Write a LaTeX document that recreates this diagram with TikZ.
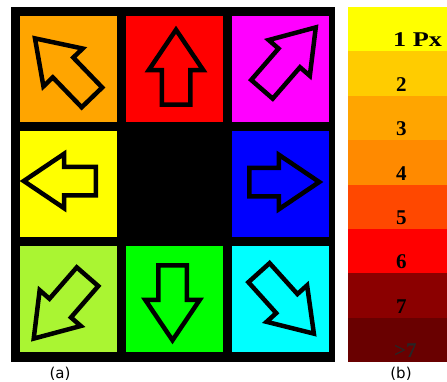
\documentclass[tikz,border=0pt]{standalone}
\usepackage{fontspec}
\setmainfont{Liberation Serif}
\newfontfamily\capfont{DejaVu Sans}
\usepackage{tikz}
\usetikzlibrary{shapes.arrows, positioning}
\definecolor{cnw}{RGB}{255,165,0}
\definecolor{cn}{RGB}{255,0,0}
\definecolor{cne}{RGB}{255,0,255}
\definecolor{cw}{RGB}{255,255,0}
\definecolor{ce}{RGB}{0,0,255}
\definecolor{csw}{RGB}{170,245,50}
\definecolor{cs}{RGB}{0,255,0}
\definecolor{cse}{RGB}{0,255,255}
\definecolor{bandA}{RGB}{255,255,0}
\definecolor{bandB}{RGB}{255,204,0}
\definecolor{bandC}{RGB}{255,165,0}
\definecolor{bandD}{RGB}{255,138,0}
\definecolor{bandE}{RGB}{255,72,0}
\definecolor{bandF}{RGB}{255,0,0}
\definecolor{bandG}{RGB}{139,0,0}
\definecolor{bandH}{RGB}{105,0,0}
\tikzset{
  cell/.style={minimum width=97pt, minimum height=106pt, inner sep=0pt},
  dirarrow/.style={single arrow, draw=black, line width=4.5pt, inner xsep=0pt, inner ysep=12pt,
    single arrow head extend=13pt, single arrow tip angle=68, minimum width=0pt, anchor=tail},
  band/.style={minimum width=99pt, minimum height=44.375pt, inner sep=0pt, outer sep=0pt},
  blbl/.style={font=\fontsize{21}{21}\selectfont\bfseries, anchor=base west, inner sep=0pt},
  sublbl/.style={font=\capfont\fontsize{15}{15}\selectfont, anchor=base, inner sep=0pt},
}

\begin{document}
\begin{tikzpicture}[x=1pt, y=1pt]
  \useasboundingbox (0,0) rectangle (447,381);
  % grid of directions
  \node[fill=black, minimum width=324pt, minimum height=355pt, inner sep=0pt] (frame) at (173,196.5) {};
  \node[cell, fill=cnw] (nw) at (68.5,312) {};
  \node[cell, fill=cn] (n) at (174.5,312) {};
  \node[cell, fill=cne] (ne) at (280.5,312) {};
  \node[cell, fill=cw] (w) at (68.5,197) {};
  \node[cell, fill=ce] (e) at (280.5,197) {};
  \node[cell, fill=csw] (sw) at (68.5,82) {};
  \node[cell, fill=cs] (s) at (174.5,82) {};
  \node[cell, fill=cse] (se) at (280.5,82) {};
  % arrows (placed by their tails)
  \node[dirarrow, minimum height=82pt, rotate=134] (anw) at (93.5,282) {};
  \node[dirarrow, minimum height=75pt, rotate=90] (an) at (176,274) {};
  \node[dirarrow, minimum height=82pt, rotate=49] (ane) at (260.5,290) {};
  \node[dirarrow, minimum height=72pt, rotate=180] (aw) at (98,200) {};
  \node[dirarrow, minimum height=70pt, rotate=0] (ae) at (247,199) {};
  \node[dirarrow, minimum height=82pt, rotate=229] (asw) at (89,106) {};
  \node[dirarrow, minimum height=75pt, rotate=-90] (as) at (172.5,118) {};
  \node[dirarrow, minimum height=82pt, rotate=-48] (ase) at (257.5,110) {};
  % colour bar
  \node[band, fill=bandA] (b1) at (397.5,351.8) {};
  \node[band, fill=bandB, below=0pt of b1] (b2) {};
  \node[band, fill=bandC, below=0pt of b2] (b3) {};
  \node[band, fill=bandD, below=0pt of b3] (b4) {};
  \node[band, fill=bandE, below=0pt of b4] (b5) {};
  \node[band, fill=bandF, below=0pt of b5] (b6) {};
  \node[band, fill=bandG, below=0pt of b6] (b7) {};
  \node[band, fill=bandH, below=0pt of b7] (b8) {};
  \node[blbl] (l1) at (393,334) {\scalebox{1.25}[1]{1 Px}};
  \node[blbl] (l2) at (396,289.6) {2};
  \node[blbl] (l3) at (396,245.3) {3};
  \node[blbl] (l4) at (396,200.9) {4};
  \node[blbl] (l5) at (396,156.5) {5};
  \node[blbl] (l6) at (396,112.1) {6};
  \node[blbl] (l7) at (396,67.8) {7};
  \node[blbl, text=black!85] (l8) at (394,23.4) {>7};
  % captions
  \node[sublbl] (capa) at (60,3) {(a)};
  \node[sublbl] (capb) at (401,3) {(b)};
\end{tikzpicture}
\end{document}
